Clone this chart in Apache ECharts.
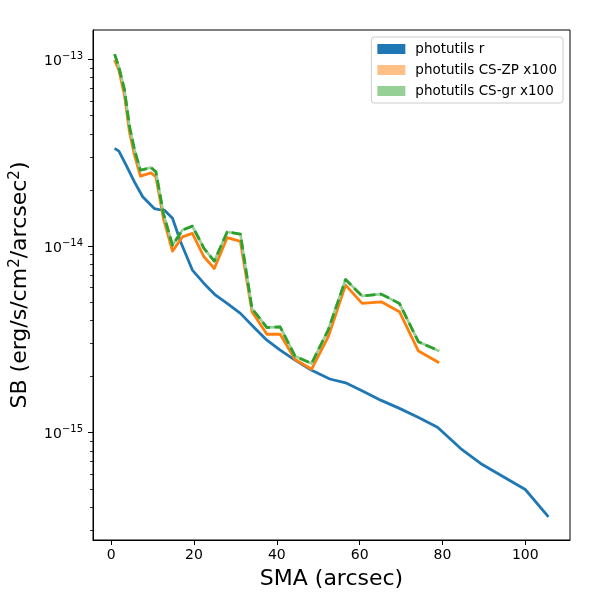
<!DOCTYPE html>
<html>
<head>
<meta charset="utf-8">
<script src="https://cdn.jsdelivr.net/npm/echarts@6/dist/echarts.min.js"></script>
<style>
  html, body { margin: 0; padding: 0; background: #fff; }
  #chart { width: 600px; height: 600px; }
</style>
</head>
<body>
<div id="chart"></div>
<script>
// photutils r profile
const smaR = [0.82, 1.85, 3.6, 5.6, 7.6, 10.4, 11.6, 12.8, 14.8, 16.8, 19.6, 22.4, 25.2, 28.0, 31.2,
  34.4, 37.6, 40.8, 44.4, 48.4, 52.8, 56.6, 60.8, 65.2, 69.6, 74.1, 78.8, 84.4, 89.2, 100.0, 105.6]
const sbR = [3.34e-14, 3.23e-14, 2.72e-14, 2.21e-14, 1.84e-14, 1.59e-14, 1.57e-14, 1.56e-14, 1.41e-14,
  1.05e-14, 7.44e-15, 6.31e-15, 5.46e-15, 4.93e-15, 4.36e-15, 3.69e-15, 3.13e-15, 2.77e-15, 2.45e-15,
  2.16e-15, 1.94e-15, 1.85e-15, 1.67e-15, 1.49e-15, 1.35e-15, 1.21e-15, 1.07e-15, 8.22e-16, 6.84e-16,
  4.96e-16, 3.54e-16]

// CS profiles (x100)
const smaCS = [0.82, 1.85, 3.2, 4.4, 5.6, 7.06, 9.6, 10.8, 12.6, 14.8, 17.2, 19.6, 22.4, 24.9, 28.0,
  31.2, 34.0, 37.6, 40.8, 44.4, 48.4, 52.4, 56.6, 60.6, 65.2, 69.6, 74.2, 79.2]
const sbZP = [9.94e-14, 8.78e-14, 6.45e-14, 4.10e-14, 3.08e-14, 2.37e-14, 2.47e-14, 2.35e-14, 1.41e-14,
  9.40e-15, 1.12e-14, 1.17e-14, 8.77e-15, 7.59e-15, 1.11e-14, 1.06e-14, 4.45e-15, 3.37e-15, 3.37e-15,
  2.47e-15, 2.19e-15, 3.26e-15, 6.18e-15, 4.93e-15, 5.03e-15, 4.45e-15, 2.74e-15, 2.37e-15]
const sbGR = [1.07e-13, 9.1e-14, 6.9e-14, 4.4e-14, 3.3e-14, 2.55e-14, 2.64e-14, 2.50e-14, 1.5e-14,
  1.01e-14, 1.22e-14, 1.28e-14, 9.73e-15, 8.31e-15, 1.19e-14, 1.16e-14, 4.63e-15, 3.66e-15, 3.69e-15,
  2.57e-15, 2.35e-15, 3.55e-15, 6.62e-15, 5.40e-15, 5.53e-15, 4.93e-15, 3.07e-15, 2.74e-15]

const xTicks = [0, 20, 40, 60, 80, 100]
const yMinorTicks = [3e-16, 4e-16, 5e-16, 6e-16, 7e-16, 8e-16, 9e-16,
  2e-15, 3e-15, 4e-15, 5e-15, 6e-15, 7e-15, 8e-15, 9e-15,
  2e-14, 3e-14, 4e-14, 5e-14, 6e-14, 7e-14, 8e-14, 9e-14]

const xMin = -4.4, xMax = 110.8
const yMin = 2.66e-16, yMax = 1.44e-13

const font = 'DejaVu Sans'
const pairs = (xs, ys) => xs.map((x, i) => [x, ys[i]])

const chart = echarts.init(document.getElementById('chart'))

const option = {
  animation: false,
  backgroundColor: '#fff',
  textStyle: { fontFamily: font },
  grid: {
    left: 90, right: 30, top: 30, bottom: 60,
    show: true, borderColor: '#000', borderWidth: 1
  },
  legend: {
    orient: 'vertical',
    right: 37, top: 37,
    padding: [5, 6, 5, 6],
    itemGap: 7,
    itemWidth: 28, itemHeight: 10,
    icon: 'rect',
    borderColor: '#cccccc', borderWidth: 1, borderRadius: 3,
    backgroundColor: 'rgba(255,255,255,0.8)',
    textStyle: { fontFamily: font, fontSize: 13.5, color: '#000', padding: [0, 0, 0, 5] },
    data: [
      { name: 'photutils r', itemStyle: { color: '#1f77b4', borderWidth: 0 } },
      { name: 'photutils CS-ZP x100', itemStyle: { color: '#ffbf87', borderWidth: 0 } },
      { name: 'photutils CS-gr x100', itemStyle: { color: '#96d096', borderWidth: 0 } }
    ]
  },
  xAxis: {
    type: 'value',
    min: xMin, max: xMax,
    name: 'SMA (arcsec)',
    nameLocation: 'middle',
    nameGap: 28,
    nameTextStyle: { fontFamily: font, fontSize: 22, color: '#000' },
    axisLine: { show: true, onZero: false, lineStyle: { color: '#000', width: 1 } },
    axisTick: { show: true, length: 5, customValues: xTicks, lineStyle: { color: '#000' } },
    axisLabel: { customValues: xTicks, margin: 8, fontFamily: font, fontSize: 14, color: '#000' },
    splitLine: { show: false }
  },
  yAxis: [
    {
      type: 'log',
      logBase: 10,
      min: yMin, max: yMax,
      position: 'left',
      name: 'SB (erg/s/cm{sup|2}/arcsec{sup|2})',
      nameLocation: 'middle',
      nameGap: 60,
      nameTextStyle: {
        fontFamily: font, fontSize: 22, color: '#000',
        rich: { sup: { fontFamily: font, fontSize: 15, color: '#000', padding: [0, 0, 10, 0] } }
      },
      axisLine: { show: true, onZero: false, lineStyle: { color: '#000', width: 1 } },
      axisTick: { show: true, length: 5, lineStyle: { color: '#000' } },
      axisLabel: {
        margin: 10,
        showMinLabel: false, showMaxLabel: false,
        formatter: function (v) {
          const lg = Math.log10(v)
          const e = Math.round(lg)
          if (Math.abs(lg - e) > 1e-6) return ''
          return '{base|10}{sup|\u2212' + (-e) + '}'
        },
        rich: {
          base: { fontFamily: font, fontSize: 14, color: '#000', padding: [4, 0, 0, 0] },
          sup: { fontFamily: font, fontSize: 10, color: '#000', padding: [0, 0, 6, 0] }
        }
      },
      splitLine: { show: false }
    },
    {
      // minor ticks at 2..9 x 10^n, in log10 space
      type: 'value',
      min: Math.log10(yMin), max: Math.log10(yMax),
      position: 'left',
      axisLine: { show: false, onZero: false },
      axisTick: {
        show: true, length: 3,
        customValues: yMinorTicks.map(v => Math.log10(v)),
        lineStyle: { color: '#000', width: 0.8 }
      },
      axisLabel: { show: false },
      splitLine: { show: false }
    }
  ],
  series: [
    {
      name: 'photutils r',
      type: 'line',
      data: pairs(smaR, sbR),
      symbol: 'none',
      lineStyle: { color: '#1f77b4', width: 2.8, join: 'round' },
      itemStyle: { color: '#1f77b4' }
    },
    {
      name: 'photutils CS-ZP x100',
      type: 'line',
      data: pairs(smaCS, sbZP),
      symbol: 'none',
      lineStyle: { color: '#ff7f0e', width: 2.8, join: 'round' },
      itemStyle: { color: '#ff7f0e' }
    },
    {
      name: 'gr band',
      type: 'line',
      data: pairs(smaCS, sbGR),
      symbol: 'none',
      silent: true,
      lineStyle: { color: '#96d096', width: 2.6, join: 'round' },
      itemStyle: { color: '#96d096' }
    },
    {
      name: 'photutils CS-gr x100',
      type: 'line',
      data: pairs(smaCS, sbGR),
      symbol: 'none',
      lineStyle: { color: '#2ca02c', width: 2.8, type: [10, 4.5], join: 'round' },
      itemStyle: { color: '#2ca02c' }
    }
  ]
}

option && chart.setOption(option)
</script>
</body>
</html>
